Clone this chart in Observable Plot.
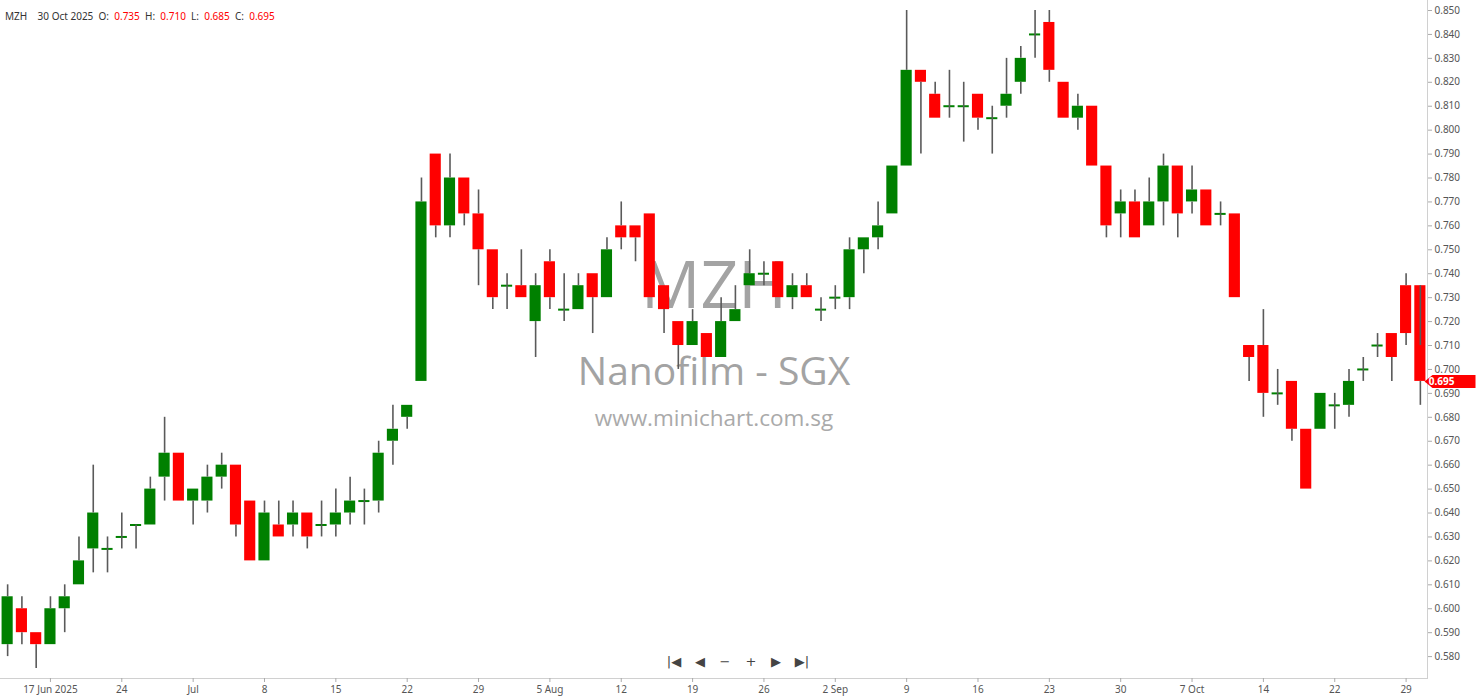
<!DOCTYPE html>
<html>
<head>
<meta charset="utf-8">
<script src="https://cdn.jsdelivr.net/npm/d3@7"></script>
<script src="https://cdn.jsdelivr.net/npm/@observablehq/plot@0.6"></script>
<style>
  html, body { margin: 0; padding: 0; background: #fff; }
  #wrap { position: relative; width: 1480px; height: 699px; overflow: hidden; }
  #hdr { position: absolute; left: 5px; top: 9px; font: 10px "Noto Sans", "Liberation Sans", sans-serif; color: #333; white-space: pre; line-height: 14px; }
  #hdr .v { color: #ff0000; }
</style>
</head>
<body>
<div id="wrap">
  <div id="chart"></div>
  <div id="hdr">MZH    30 Oct 2025  O:  <span class="v">0.735</span>  H:  <span class="v">0.710</span>  L:  <span class="v">0.685</span>  C:  <span class="v">0.695</span></div>
</div>
<script>
// Daily OHLC for MZH (Nanofilm - SGX), 100 sessions, 12 Jun 2025 to 30 Oct 2025
const opens = [
  0.585,0.600,0.590,0.585,0.600,0.610,0.625,0.625,0.630,0.635,
  0.635,0.655,0.665,0.645,0.645,0.655,0.660,0.645,0.620,0.635,
  0.635,0.640,0.635,0.635,0.640,0.645,0.645,0.670,0.680,0.695,
  0.790,0.760,0.780,0.765,0.750,0.735,0.735,0.720,0.745,0.725,
  0.725,0.740,0.730,0.760,0.760,0.765,0.735,0.720,0.710,0.715,
  0.705,0.720,0.735,0.740,0.745,0.730,0.735,0.725,0.730,0.730,
  0.750,0.755,0.765,0.785,0.825,0.815,0.810,0.810,0.815,0.805,
  0.810,0.820,0.840,0.845,0.820,0.805,0.810,0.785,0.765,0.770,
  0.760,0.770,0.785,0.770,0.775,0.765,0.765,0.710,0.710,0.690,
  0.695,0.675,0.675,0.685,0.685,0.700,0.710,0.715,0.735,0.735
];
const highs = [
  0.610,0.605,0.590,0.605,0.610,0.630,0.660,0.630,0.640,0.635,
  0.655,0.680,0.665,0.650,0.660,0.665,0.660,0.645,0.645,0.645,
  0.645,0.640,0.645,0.650,0.655,0.650,0.670,0.685,0.685,0.780,
  0.790,0.790,0.780,0.775,0.750,0.740,0.750,0.740,0.750,0.740,
  0.740,0.740,0.755,0.770,0.760,0.765,0.735,0.720,0.725,0.715,
  0.730,0.735,0.750,0.745,0.745,0.740,0.740,0.730,0.735,0.755,
  0.755,0.770,0.785,0.850,0.825,0.820,0.825,0.820,0.815,0.810,
  0.830,0.835,0.850,0.850,0.820,0.815,0.810,0.785,0.775,0.775,
  0.780,0.790,0.785,0.785,0.775,0.770,0.765,0.710,0.725,0.700,
  0.695,0.675,0.690,0.690,0.700,0.705,0.715,0.715,0.740,0.710
];
const lows = [
  0.580,0.585,0.575,0.585,0.590,0.610,0.615,0.615,0.625,0.625,
  0.635,0.645,0.645,0.635,0.640,0.650,0.630,0.620,0.620,0.630,
  0.630,0.625,0.630,0.630,0.635,0.635,0.640,0.660,0.675,0.695,
  0.755,0.755,0.760,0.735,0.725,0.725,0.730,0.705,0.725,0.720,
  0.725,0.715,0.730,0.750,0.745,0.730,0.715,0.700,0.710,0.705,
  0.705,0.720,0.735,0.735,0.730,0.725,0.730,0.720,0.725,0.725,
  0.740,0.750,0.765,0.785,0.790,0.805,0.805,0.795,0.800,0.790,
  0.805,0.815,0.830,0.820,0.805,0.800,0.785,0.755,0.755,0.755,
  0.760,0.760,0.755,0.765,0.760,0.760,0.730,0.695,0.680,0.685,
  0.670,0.650,0.675,0.675,0.680,0.695,0.705,0.695,0.710,0.685
];
const closes = [
  0.605,0.590,0.585,0.600,0.605,0.620,0.640,0.625,0.630,0.635,
  0.650,0.665,0.645,0.650,0.655,0.660,0.635,0.620,0.640,0.630,
  0.640,0.630,0.635,0.640,0.645,0.645,0.665,0.675,0.685,0.770,
  0.760,0.780,0.765,0.750,0.730,0.735,0.730,0.735,0.730,0.725,
  0.735,0.730,0.750,0.755,0.755,0.730,0.725,0.710,0.720,0.705,
  0.720,0.725,0.740,0.740,0.730,0.735,0.730,0.725,0.730,0.750,
  0.755,0.760,0.785,0.825,0.820,0.805,0.810,0.810,0.805,0.805,
  0.815,0.830,0.840,0.825,0.805,0.810,0.785,0.760,0.770,0.755,
  0.770,0.785,0.765,0.775,0.760,0.765,0.730,0.705,0.690,0.690,
  0.675,0.650,0.690,0.685,0.695,0.700,0.710,0.705,0.715,0.695
];
// Date axis: tick at session index -> label
const tickIndex  = [3, 8, 13, 18, 23, 28, 33, 38, 43, 48, 53, 58, 63, 68, 73, 78, 83, 88, 93, 98];
const tickLabels = ["17 Jun 2025","24","Jul","8","15","22","29","5 Aug","12","19","26","2 Sep","9","16","23","30","7 Oct","14","22","29"];
const priceTicks = [0.580,0.590,0.600,0.610,0.620,0.630,0.640,0.650,0.660,0.670,0.680,0.690,0.700,
                    0.710,0.720,0.730,0.740,0.750,0.760,0.770,0.780,0.790,0.800,0.810,0.820,0.830,0.840,0.850];
const lastPrice = 0.695;

const GREEN = "#008000", RED = "#ff0000", WICK = "#5a5a5a";
const rows = opens.map((o, i) => ({i, o, h: highs[i], l: lows[i], c: closes[i]}));
const upBodies = rows.filter(d => d.c > d.o);
const downBodies = rows.filter(d => d.c < d.o);
const dojis = rows.filter(d => d.c === d.o);

const font = '"Noto Sans", "Liberation Sans", sans-serif';

const tagSymbol = {
  draw(ctx) {
    ctx.moveTo(-3, 0);
    ctx.lineTo(5, -6.5);
    ctx.lineTo(48, -6.5);
    ctx.lineTo(48, 6.5);
    ctx.lineTo(5, 6.5);
    ctx.closePath();
  }
};

const navGlyphs = ["|◀", "◀", "−", "+", "▶", "▶|"];
const navOffsets = [-40, -14, 11, 37, 62, 88];

const marks = [
  Plot.text(["MZH"], {frameAnchor: "middle", dy: -53, text: d => d, fontSize: 66, fill: "#a3a3a3", fontFamily: '"Open Sans", sans-serif'}),
  Plot.text(["Nanofilm - SGX"], {frameAnchor: "middle", dy: 33, text: d => d, fontSize: 39, fill: "#a3a3a3", fontFamily: '"Open Sans", sans-serif'}),
  Plot.text(["www.minichart.com.sg"], {frameAnchor: "middle", dy: 79, text: d => d, fontSize: 22.5, fill: "#aaaaaa", fontFamily: '"Open Sans", sans-serif'}),
  ...navGlyphs.map((g, k) => Plot.text([g], {frameAnchor: "bottom", dx: navOffsets[k], dy: -13, text: d => d, fontSize: 13, fill: "#444", fontFamily: '"DejaVu Sans", sans-serif'})),
  Plot.barY(upBodies, {x: "i", y1: "o", y2: "c", fill: GREEN}),
  Plot.barY(downBodies, {x: "i", y1: "o", y2: "c", fill: RED}),
  Plot.tickY(dojis, {x: "i", y: "o", stroke: GREEN, strokeWidth: 2}),
  Plot.ruleX(rows, {x: "i", y1: d => Math.max(d.o, d.c), y2: "h", stroke: WICK, strokeWidth: 1.6}),
  Plot.ruleX(rows, {x: "i", y1: d => Math.min(d.o, d.c), y2: "l", stroke: WICK, strokeWidth: 1.6}),
  Plot.frame({anchor: "bottom", stroke: "#d0d0d0"}),
  Plot.frame({anchor: "right", stroke: "#d0d0d0"}),
  Plot.axisY({anchor: "right", ticks: priceTicks, tickFormat: d3.format(".3f"), tickSize: 4, tickPadding: 3, fontSize: 10, fill: "#555", stroke: "#aaa", label: null}),
  Plot.axisX({ticks: tickIndex, tickFormat: d => tickLabels[tickIndex.indexOf(d)], tickSize: 4, tickPadding: 3, fontSize: 10, fill: "#555", stroke: "#aaa", label: null}),
  Plot.dot([lastPrice], {y: d => d, frameAnchor: "right", symbol: tagSymbol, r: 5, fill: RED, stroke: "none"}),
  Plot.text([lastPrice], {y: d => d, frameAnchor: "right", dx: 27, text: d => d3.format(".3f")(d), fill: "white", fontWeight: "bold", fontSize: 10})
];

const chart = Plot.plot({
  width: 1480,
  height: 699,
  marginLeft: 0,
  marginRight: 53,
  marginTop: 0,
  marginBottom: 21,
  style: {fontFamily: font, background: "#fff"},
  x: {type: "band", domain: rows.map(d => d.i), paddingInner: 0.22, paddingOuter: 0.11, round: false, axis: null},
  y: {domain: [0.57085, 0.85418], axis: null},
  marks
});
document.getElementById("chart").appendChild(chart);
</script>
</body>
</html>
